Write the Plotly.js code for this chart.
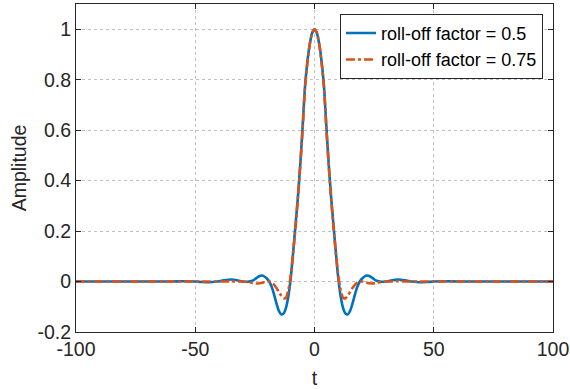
<!DOCTYPE html>
<html>
<head>
<meta charset="utf-8">
<script src="https://cdn.plot.ly/plotly-3.0.1.min.js"></script>
<style>html,body{margin:0;padding:0;background:#fff;}#chart{width:570px;height:389px;}</style>
</head>
<body>
<div id="chart"></div>
<script>
var t = [-100,-90,-80,-70,-60,-55,-50,-47,-44,-41,-38,-35,-32,-30,-28,-26,-25,-24,-23,-22,-21,-20,-19,-18,-17,-16,-15,-14,-13,-12,-11,-10,-9,-8,-7,-6,-5,-4,-3,-2,-1,0,
         1,2,3,4,5,6,7,8,9,10,11,12,13,14,15,16,17,18,19,20,21,22,23,24,25,26,28,30,32,35,38,41,44,47,50,55,60,70,80,90,100];
var rollOff05 = [0,0,0,0,0,0.001,0,-0.002,-0.003,0,0.005,0.008,0.004,0,-0.001,0.003,0.009,0.016,0.022,0.024,0.02,0.012,0,-0.02,-0.05,-0.085,-0.115,-0.13,-0.127,-0.105,-0.06,0.01,0.11,0.22,0.33,0.46,0.61,0.77,0.87,0.94,0.985,1.0,
         0.985,0.94,0.87,0.77,0.61,0.46,0.33,0.22,0.11,0.01,-0.06,-0.105,-0.127,-0.13,-0.115,-0.085,-0.05,-0.02,0,0.012,0.02,0.024,0.022,0.016,0.009,0.003,-0.001,0,0.004,0.008,0.005,0,-0.003,-0.002,0,0.001,0,0,0,0,0];
var rollOff075 = [0,0,0,0,0,0,0,0,0,0,0,0.001,0,0,-0.002,-0.006,-0.007,-0.008,-0.007,-0.005,-0.002,0,0,-0.004,-0.012,-0.025,-0.04,-0.055,-0.066,-0.065,-0.035,0.02,0.11,0.21,0.325,0.455,0.6,0.765,0.865,0.94,0.985,1.0,
         0.985,0.94,0.865,0.765,0.6,0.455,0.325,0.21,0.11,0.02,-0.035,-0.065,-0.066,-0.055,-0.04,-0.025,-0.012,-0.004,0,0,-0.002,-0.005,-0.007,-0.008,-0.007,-0.006,-0.002,0,0,0.001,0,0,0,0,0,0,0,0,0,0,0];
var xTickVals = [-100,-50,0,50,100];
var xTickText = ['-100','-50','0','50','100'];
var yTickVals = [-0.2,0,0.2,0.4,0.6,0.8,1];
var yTickText = ['-0.2','0','0.2','0.4','0.6','0.8','1'];
var seriesNames = ['roll-off factor = 0.5','roll-off factor = 0.75'];

var traces = [
  {x:t, y:rollOff05, name:seriesNames[0], type:'scatter', mode:'lines',
   line:{color:'#0072BD', width:2.6, shape:'spline', smoothing:0.6}},
  {x:t, y:rollOff075, name:seriesNames[1], type:'scatter', mode:'lines',
   line:{color:'#D95319', width:2.6, dash:'dashdot', shape:'spline', smoothing:0.6}}
];
var FONT = 'Liberation Sans, Arial, sans-serif';
var axisCommon = {
  showline:true, linecolor:'#262626', linewidth:1, mirror:'ticks',
  ticks:'inside', ticklen:5, tickcolor:'#262626', tickwidth:1,
  showgrid:true, gridcolor:'rgba(0,0,0,0.25)', griddash:'dot', gridwidth:1,
  zeroline:false, tickfont:{family:FONT, size:19.5, color:'#262626'}
};
var layout = {
  width:570, height:389,
  margin:{l:76, r:17, t:4, b:57},
  paper_bgcolor:'#fff', plot_bgcolor:'#fff',
  font:{family:FONT, color:'#262626'},
  xaxis:Object.assign({}, axisCommon, {range:[-100,100], tickmode:'array', tickvals:xTickVals, ticktext:xTickText,
    title:{text:'t', font:{family:FONT, size:19.5, color:'#262626'}, standoff:11}}),
  yaxis:Object.assign({}, axisCommon, {range:[-0.2,1.1], tickmode:'array', tickvals:yTickVals, ticktext:yTickText,
    title:{text:'Amplitude', font:{family:FONT, size:19.5, color:'#262626'}, standoff:5}}),
  showlegend:true,
  legend:{x:0.979, y:0.97, xanchor:'right', yanchor:'top', bgcolor:'#fff',
    bordercolor:'#262626', borderwidth:1, font:{family:FONT, size:18, color:'#000'}, tracegroupgap:0}
};
Plotly.newPlot('chart', traces, layout, {staticPlot:true});
</script>
</body>
</html>
